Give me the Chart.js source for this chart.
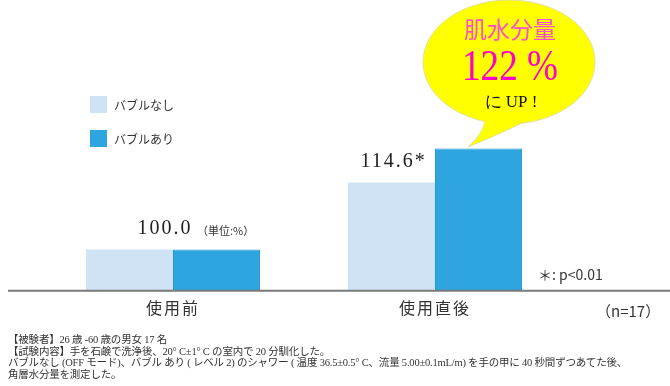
<!DOCTYPE html>
<html lang="ja">
<head>
<meta charset="utf-8">
<script src="https://cdn.jsdelivr.net/npm/chart.js@4.4.0/dist/chart.umd.min.js"></script>
<style>
  body { margin: 0; background: #fff; }
  #wrap { position: relative; width: 670px; height: 386px; }
  #notes {
    position: absolute; left: 8px; top: 334px;
    font: 10.5px/11.5px "Liberation Serif", "Noto Sans CJK JP", serif;
    letter-spacing: -0.2px;
    color: #333; white-space: nowrap;
  }
</style>
</head>
<body>
<div id="wrap">
  <canvas id="chart" width="670" height="386"></canvas>
  <div id="notes">
    【被験者】26 歳 -60 歳の男女 17 名<br>
    【試験内容】手を石鹸で洗浄後、20° C±1° C の室内で 20 分馴化した。<br>
    バブルなし (OFF モード)、バブル あり ( レベル 2) のシャワー ( 温度 36.5±0.5° C、流量 5.00±0.1mL/m) を手の甲に 40 秒間ずつあてた後、<br>
    角層水分量を測定した。
  </div>
</div>
<script>
  // data
  const categories = ['使用前', '使用直後'];
  const seriesNames = ['バブルなし', 'バブルあり'];
  const withoutBubble = [100, 114.6];
  const withBubble = [100, 122];
  const valueLabels = ['100.0', '114.6*'];

  const LIGHT = '#cfe3f5';
  const BLUE = '#2fa5e0';
  const JP = '"Noto Sans CJK JP", "Noto Sans", sans-serif';
  const SERIF = '"Liberation Serif", "DejaVu Serif", serif';

  // spaced tick labels
  const spacing = {
    id: 'spacing',
    beforeDraw(chart) { chart.ctx.letterSpacing = '2px'; },
    beforeDatasetsDraw(chart) { chart.ctx.letterSpacing = '0px'; }
  };

  const overlay = {
    id: 'overlay',
    afterDatasetsDraw(chart) {
      const ctx = chart.ctx;
      const area = chart.chartArea;
      const light = chart.getDatasetMeta(0).data;
      const blue = chart.getDatasetMeta(1).data;
      ctx.save();
      ctx.letterSpacing = '0px';

      // baseline
      ctx.strokeStyle = '#7a7a7a';
      ctx.lineWidth = 2;
      ctx.beginPath();
      ctx.moveTo(8, area.bottom);
      ctx.lineTo(670, area.bottom);
      ctx.stroke();

      // legend
      chart.data.datasets.forEach(function(ds, i) {
        const y = 96 + i * 34;
        ctx.fillStyle = ds.backgroundColor;
        ctx.fillRect(90, y, 17, 17);
        ctx.fillStyle = '#333';
        ctx.font = '12px ' + JP;
        ctx.textAlign = 'left';
        ctx.textBaseline = 'middle';
        ctx.fillText(ds.label, 114, y + 9);
      });

      // value labels
      ctx.fillStyle = '#222';
      ctx.textBaseline = 'middle';
      ctx.textAlign = 'center';
      ctx.letterSpacing = '2px';
      ctx.font = '20px ' + SERIF;
      valueLabels.forEach(function(txt, i) {
        const x = i === 0 ? (light[i].x + blue[i].x) / 2 - 8 : light[i].x + 2;
        ctx.fillText(txt, x, light[i].y - 21);
      });
      ctx.letterSpacing = '0px';
      ctx.font = '11px ' + JP;
      ctx.textAlign = 'left';
      ctx.fillStyle = '#333';
      ctx.fillText('（単位:%）', 197, light[0].y - 19);

      // p note + n
      ctx.font = '14px ' + JP;
      ctx.fillText('＊: p<0.01', 538, 275);
      ctx.font = '15px ' + JP;
      ctx.fillText('（n=17）', 596, 311);

      // speech bubble
      const cx = 509, cy = 62, rx = 86, ry = 62;
      const aL = Math.acos((485 - cx) / rx);
      const aR = Math.acos((521 - cx) / rx);
      ctx.beginPath();
      ctx.moveTo(468, 147);
      ctx.quadraticCurveTo(482, 135, cx + rx * Math.cos(aL), cy + ry * Math.sin(aL));
      ctx.ellipse(cx, cy, rx, ry, 0, aL, aR);
      ctx.quadraticCurveTo(500, 134, 468, 147);
      ctx.closePath();
      ctx.fillStyle = '#ffff00';
      ctx.fill();
      ctx.strokeStyle = '#e0e0a0';
      ctx.lineWidth = 1;
      ctx.stroke();

      ctx.textAlign = 'center';
      ctx.textBaseline = 'middle';
      ctx.fillStyle = '#ff4fd0';
      ctx.font = '23px ' + JP;
      ctx.fillText('肌水分量', 510, 29);
      ctx.fillStyle = '#ff00cc';
      ctx.font = '44px ' + SERIF;
      ctx.fillText('122 %', 510, 68, 96);
      ctx.fillStyle = '#111';
      ctx.font = '17px ' + SERIF;
      ctx.fillText('に UP !', 511, 103, 60);

      ctx.restore();
    }
  };

  new Chart(document.getElementById('chart'), {
    type: 'bar',
    data: {
      labels: categories,
      datasets: [
        { label: seriesNames[0], data: withoutBubble, backgroundColor: LIGHT,
          categoryPercentage: 0.664, barPercentage: 1 },
        { label: seriesNames[1], data: withBubble, backgroundColor: BLUE,
          borderColor: '#2898d4', borderWidth: 1,
          categoryPercentage: 0.664, barPercentage: 1 }
      ]
    },
    options: {
      responsive: false,
      animation: false,
      devicePixelRatio: 1,
      layout: { padding: { left: 42, right: 104, top: 66, bottom: 60 } },
      plugins: { legend: { display: false }, tooltip: { enabled: false } },
      scales: {
        x: {
          grid: { display: false, drawTicks: false },
          border: { display: false },
          ticks: { color: '#333', font: { family: JP, size: 16 }, padding: 8 }
        },
        y: { display: false, min: 91, max: 140 }
      }
    },
    plugins: [spacing, overlay]
  });
</script>
</body>
</html>
